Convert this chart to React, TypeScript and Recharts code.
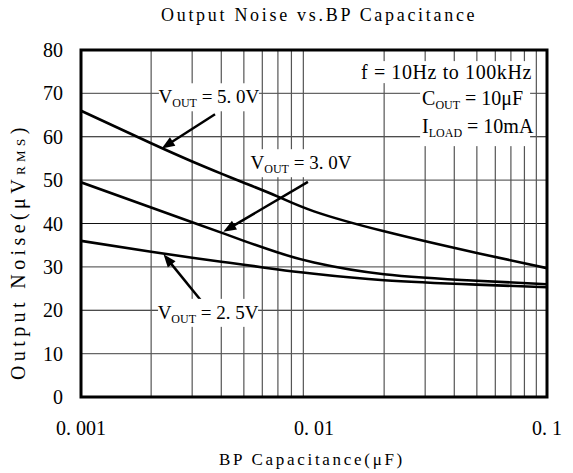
import React from 'react';
import {
  LineChart,
  Line,
  XAxis,
  YAxis,
  CartesianGrid,
  ReferenceArea,
  ReferenceLine,
  ReferenceDot
} from 'recharts';

// BP capacitance (uF) and output noise (uVrms)
const capsX = [0.001, 0.002, 0.003, 0.004, 0.005, 0.007, 0.01, 0.02, 0.05, 0.1];
const noise5V0 = [66, 58.5, 54.3, 51.5, 49.4, 46.2, 42.8, 38.2, 33.2, 29.7];
const noise3V0 = [49.5, 43.7, 40.3, 37.9, 36.0, 33.3, 31.0, 28.3, 26.8, 26];
const noise2V5 = [36, 33.5, 32.1, 31.2, 30.5, 29.4, 28.4, 26.9, 25.9, 25.3];

const xTicks = [0.001, 0.01, 0.1];
const xTickLabels = ['0. 001', '0. 01', '0. 1'];
const yTicks = [0, 10, 20, 30, 40, 50, 60, 70, 80];
const minorX = [
  0.002, 0.003, 0.004, 0.005, 0.006, 0.007, 0.008, 0.009,
  0.02, 0.03, 0.04, 0.05, 0.06, 0.07, 0.08, 0.09
];

// annotation anchors (data coordinates)
const tagText = ['5. 0V', '3. 0V', '2. 5V'];
const tagAt = [
  { x: 0.00354, y: 69.1 },
  { x: 0.00879, y: 53.9 },
  { x: 0.00351, y: 19.4 }
];
const arrows = [
  [{ x: 0.00376, y: 65.2 }, { x: 0.00222, y: 57.3 }],
  [{ x: 0.00942, y: 49.6 }, { x: 0.00408, y: 38.1 }],
  [{ x: 0.0033, y: 22.0 }, { x: 0.00226, y: 32.9 }]
];

const data = capsX.map((c, i) => ({
  cap: c,
  v50: noise5V0[i],
  v30: noise3V0[i],
  v25: noise2V5[i]
}));

const SERIF = '"Liberation Serif", "DejaVu Serif", serif';

const XTick = ({ x, y, payload }: any) => {
  const i = xTicks.indexOf(payload.value);
  return (
    <text x={x} y={y + 38} textAnchor="middle" fontFamily={SERIF} fontSize={20} fill="#000">
      {i >= 0 ? xTickLabels[i] : ''}
    </text>
  );
};

const YTick = ({ x, y, payload }: any) => (
  <text x={x - 18} y={y + 7} textAnchor="end" fontFamily={SERIF} fontSize={20} fill="#000">
    {payload.value}
  </text>
);

const Arrow = ({ x1, y1, x2, y2 }: any) => {
  const dx = x2 - x1;
  const dy = y2 - y1;
  const len = Math.sqrt(dx * dx + dy * dy) || 1;
  const ux = dx / len;
  const uy = dy / len;
  const head = 13;
  const half = 5;
  const bx = x2 - ux * head;
  const by = y2 - uy * head;
  return (
    <g>
      <line x1={x1} y1={y1} x2={bx + ux * 2} y2={by + uy * 2} stroke="#000" strokeWidth={2.5} />
      <polygon
        points={`${x2},${y2} ${bx - uy * half},${by + ux * half} ${bx + uy * half},${by - ux * half}`}
        fill="#000"
      />
    </g>
  );
};

const VoutTag = ({ cx, cy, label }: any) => (
  <g>
    <rect x={cx - 50} y={cy - 14} width={100} height={28} fill="#fff" />
    <text x={cx} y={cy + 6} textAnchor="middle" fontFamily={SERIF} fontSize={19} fill="#000">
      V
      <tspan fontSize={12} dy={4}>OUT</tspan>
      <tspan dy={-4}> = {label}</tspan>
    </text>
  </g>
);

const CondFreq = ({ cx, cy }: any) => (
  <g>
    <rect x={cx - 180} y={cy - 11} width={182} height={22} fill="#fff" />
    <text x={cx} y={cy + 7} textAnchor="end" fontFamily={SERIF} fontSize={20} letterSpacing={0.6} fill="#000">
      f = 10Hz to 100kHz
    </text>
  </g>
);

const CondOut = ({ cx, cy }: any) => (
  <g>
    <rect x={cx - 2} y={cy - 16} width={110} height={64} fill="#fff" />
    <text x={cx} y={cy + 7} fontFamily={SERIF} fontSize={20} fill="#000">
      C
      <tspan fontSize={12} dy={4}>OUT</tspan>
      <tspan dy={-4}> = 10μF</tspan>
    </text>
    <text x={cx} y={cy + 35} fontFamily={SERIF} fontSize={20} fill="#000">
      I
      <tspan fontSize={12} dy={4}>LOAD</tspan>
      <tspan dy={-4}> = 10mA</tspan>
    </text>
  </g>
);

export default function App() {
  return (
    <div style={{ position: 'absolute', left: 0, top: 0, width: 573, height: 473, background: '#fff' }}>
      <div
        style={{
          position: 'absolute',
          left: 161,
          top: 6,
          fontFamily: SERIF,
          fontSize: 18,
          letterSpacing: 2.7,
          lineHeight: 1,
          whiteSpace: 'pre',
          color: '#000'
        }}
      >
        Output Noise vs.BP Capacitance
      </div>
      <LineChart
        width={573}
        height={473}
        data={data}
        margin={{ top: 50, right: 26, bottom: 26, left: 0 }}
      >
        <CartesianGrid vertical={false} horizontalValues={[10, 30, 50, 70]} stroke="#666" strokeWidth={1.2} />
        <CartesianGrid vertical={false} horizontalValues={[20, 40, 60]} stroke="#111" strokeWidth={1.2} />
        <CartesianGrid horizontal={false} verticalValues={minorX} stroke="#555" strokeWidth={1.2} />
        <XAxis
          dataKey="cap"
          type="number"
          scale="log"
          domain={[0.001, 0.1]}
          ticks={xTicks}
          interval={0}
          allowDataOverflow
          axisLine={false}
          tickLine={false}
          tickSize={0}
          tickMargin={0}
          height={50}
          tick={<XTick />}
          label={{
            content: () => (
              <text x={312} y={465} textAnchor="middle" fontFamily={SERIF} fontSize={17} letterSpacing={2.7} fill="#000">
                BP Capacitance(μF)
              </text>
            )
          }}
        />
        <YAxis
          type="number"
          domain={[0, 80]}
          ticks={yTicks}
          interval={0}
          axisLine={false}
          tickLine={false}
          tickSize={0}
          tickMargin={0}
          width={81}
          tick={<YTick />}
          label={{
            content: () => (
              <text
                x={25}
                y={380}
                transform="rotate(-90, 25, 380)"
                fontFamily={SERIF}
                fontSize={20}
                letterSpacing={4.4}
                fill="#000"
              >
                Output Noise(μV
                <tspan fontSize={13}>RMS</tspan>
                <tspan>)</tspan>
              </text>
            )
          }}
        />
        <Line type="natural" dataKey="v50" stroke="#000" strokeWidth={2.6} dot={false} isAnimationActive={false} />
        <Line type="natural" dataKey="v30" stroke="#000" strokeWidth={2.6} dot={false} isAnimationActive={false} />
        <Line type="natural" dataKey="v25" stroke="#000" strokeWidth={2.6} dot={false} isAnimationActive={false} />
        {tagAt.map((p, i) => (
          <ReferenceDot
            key={'tag' + i}
            x={p.x}
            y={p.y}
            ifOverflow="visible"
            shape={(props: any) => <VoutTag {...props} label={tagText[i]} />}
          />
        ))}
        {arrows.map((seg, i) => (
          <ReferenceLine key={'arr' + i} segment={seg} ifOverflow="visible" shape={(props: any) => <Arrow {...props} />} />
        ))}
        <ReferenceDot x={0.0862} y={74.9} ifOverflow="visible" shape={(props: any) => <CondFreq {...props} />} />
        <ReferenceDot x={0.0291} y={68.9} ifOverflow="visible" shape={(props: any) => <CondOut {...props} />} />
        <ReferenceArea x1={0.001} x2={0.1} y1={0} y2={80} fill="none" stroke="#000" strokeWidth={3} ifOverflow="visible" />
      </LineChart>
    </div>
  );
}
